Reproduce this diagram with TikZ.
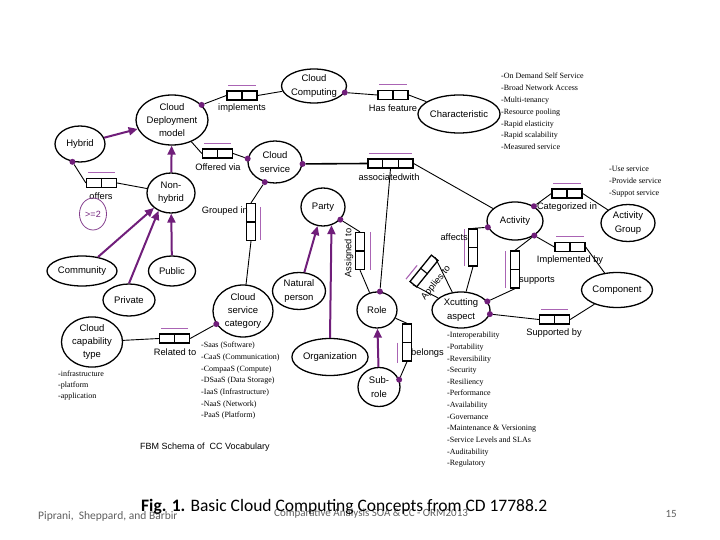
\documentclass[tikz,border=0pt]{standalone}
\usepackage{fontspec}
\setmainfont{Liberation Serif}
\setsansfont{Liberation Sans}
\newfontfamily\captionfont{Carlito}
\usepackage{tikz}
\usetikzlibrary{arrows.meta,shapes.geometric,calc}
\usepackage{xcolor}

\definecolor{subpurple}{RGB}{112,30,122}
\definecolor{ucpurple}{RGB}{170,100,180}
\definecolor{footgray}{RGB}{95,95,95}

\begin{document}
\begin{tikzpicture}[x=1pt,y=-1pt,
  concept/.style={ellipse, draw=black, line width=1.3pt, fill=white, inner sep=0pt, align=center, font=\sffamily\fontsize{9.5}{13.3}\selectfont},
  rolebox/.style={rectangle, draw=black, line width=1.3pt, fill=white, inner sep=0pt, minimum width=30pt, minimum height=9pt},
  vrolebox/.style={rolebox, minimum width=9pt, minimum height=37pt},
  divider/.style={draw=black, line width=1.1pt},
  lbl/.style={font=\sffamily\fontsize{9.3}{11}\selectfont, inner sep=0pt},
  facts/.style={font=\rmfamily\fontsize{8}{11.7}\selectfont, align=left, inner sep=0pt, anchor=north west},
  link/.style={draw=black, line width=0.9pt},
  subtype/.style={draw=subpurple, line width=2pt, -{Triangle[length=9pt,width=8pt]}},
  mand/.style={circle, fill=subpurple, inner sep=0pt, minimum size=6pt},
  uc/.style={draw=ucpurple, line width=1.1pt}
]
\useasboundingbox (0,0) rectangle (720,540);

% object types
\node[concept, minimum width=62pt, minimum height=34pt] (cc) at (314,86) {Cloud\\Computing};
\node[concept, minimum width=72pt, minimum height=50pt] (cdm) at (172,120) {Cloud\\Deployment\\model};
\node[concept, minimum width=50pt, minimum height=36pt] (hyb) at (80,144) {Hybrid};
\node[concept, minimum width=48pt, minimum height=40pt] (nonh) at (171,193) {Non-\\hybrid};
\node[concept, minimum width=54pt, minimum height=42pt] (cs) at (275,162) {Cloud\\service};
\node[concept, minimum width=76pt, minimum height=38pt] (char) at (459,114) {Characteristic};
\node[concept, minimum width=44pt, minimum height=38pt] (party) at (323,207) {Party};
\node[concept, minimum width=53pt, minimum height=37pt] (natp) at (299,291) {Natural\\person};
\node[concept, minimum width=40pt, minimum height=36pt] (role) at (377,310) {Role};
\node[concept, minimum width=75pt, minimum height=37pt] (org) at (330,357) {Organization};
\node[concept, minimum width=42pt, minimum height=39pt] (subr) at (379,387) {Sub-\\role};
\node[concept, minimum width=58pt, minimum height=36pt] (xc) at (461,310) {Xcutting\\aspect};
\node[concept, minimum width=56pt, minimum height=38pt] (act) at (515,221) {Activity};
\node[concept, minimum width=54pt, minimum height=37pt] (actg) at (628,223) {Activity\\Group};
\node[concept, minimum width=71pt, minimum height=35pt] (comp) at (617,290) {Component};
\node[concept, minimum width=70pt, minimum height=30pt] (comm) at (82,271) {Community};
\node[concept, minimum width=47pt, minimum height=30pt] (pub) at (172,271) {Public};
\node[concept, minimum width=52pt, minimum height=32pt] (priv) at (129,300) {Private};
\node[concept, minimum width=60pt, minimum height=52pt] (csc) at (243,311) {Cloud\\service\\category};
\node[concept, minimum width=61pt, minimum height=49pt] (cct) at (92,342) {Cloud\\capability\\type};

% fact type boxes
\node[rolebox] (impl) at (242,95.5) {};
\node[rolebox] (hasf) at (393,95) {};
\node[rolebox] (offv) at (217.5,153.5) {};
\node[rolebox] (offers) at (101.5,183) {};
\node[rolebox, minimum width=45pt] (assoc) at (390.5,163.5) {};
\node[rolebox] (cat) at (567,193.5) {};
\node[rolebox] (impb) at (570,247) {};
\node[rolebox] (supb) at (554.5,319.5) {};
\node[rolebox] (rel) at (174.5,338.5) {};
\node[vrolebox] (grp) at (251,222) {};
\node[vrolebox] (asg) at (360,251) {};
\node[vrolebox] (aff) at (473,247.5) {};
\node[vrolebox] (sup) at (515,269.5) {};
\node[vrolebox] (blg) at (407,342.5) {};
\node[rolebox, minimum width=34pt, minimum height=8.5pt, rotate=51] (apl) at (424,271) {};

\foreach \b in {impl,hasf,offv,offers,cat,impb,supb,rel,apl}
  \draw[divider] (\b.north) -- (\b.south);
\foreach \b in {grp,asg,aff,sup,blg}
  \draw[divider] (\b.west) -- (\b.east);
\draw[divider] ($(assoc.north west)!1/3!(assoc.north east)$) -- ($(assoc.south west)!1/3!(assoc.south east)$);
\draw[divider] ($(assoc.north west)!2/3!(assoc.north east)$) -- ($(assoc.south west)!2/3!(assoc.south east)$);

% uniqueness bars
\foreach \b in {impl,hasf,offv,offers,assoc,cat,impb,supb,rel}
  \draw[uc] ($(\b.north west)+(2,-5)$) -- ($(\b.north east)+(-2,-5)$);
\draw[uc] ($(grp.north east)+(4,4)$) -- ($(grp.south east)+(4,-1)$);
\draw[uc] ($(asg.north east)+(5,0)$) -- ($(asg.south east)+(5,0)$);
\draw[uc] ($(aff.north west)+(-3,1)$) -- ($(aff.south west)+(-3,-1)$);
\draw[uc] ($(sup.north west)+(-4.5,1)$) -- ($(sup.south west)+(-4.5,-1)$);
\draw[uc] ($(blg.west)+(-4.5,0)$) -- ($(blg.south west)+(-4.5,1)$);
\draw[uc] ($(apl.north west)!-4pt!(apl.south west)$) -- ($(apl.north)!-4pt!(apl.south)$);

% mandatory role dots
\node[mand] (dcc) at (cc.-12) {};
\node[mand] (dcdm) at (cdm.27) {};
\node[mand] (dhyb) at (hyb.247) {};
\node[mand] (dcsl) at (cs.173) {};
\node[mand] (dcsr) at (cs.-4) {};
\node[mand] (dcsb) at (cs.243) {};
\node[mand] (dcsc) at (csc.206) {};
\node[mand] (dparty) at (party.-36) {};
\node[mand] (drole) at (role.81) {};
\node[mand] (dsubr) at (subr.20) {};
\node[mand] (dacttr) at (act.38) {};
\node[mand] (dactl) at (act.193) {};
\node[mand] (dactbr) at (act.-37) {};
\node[mand] (dxca) at (xc.18) {};
\node[mand] (dxcb) at (xc.-8) {};

% connectors
\draw[link] (dcdm) -- (impl.west);
\draw[link] (impl.east) -- (cc);
\draw[link] (dcc) -- (hasf.west);
\draw[link] (hasf.east) -- (char);
\draw[link] (dhyb) -- (offers.west);
\draw[link] (offers.east) -- (nonh);
\draw[link] (offv.west) -- (cdm);
\draw[link] (dcsl) -- (offv.east);
\draw[link, line width=1.6pt] (dcsr) -- (assoc.west);
\draw[link] (assoc.east) -- (act);
\draw[link] (drole) -- (assoc.south);
\draw[link] (dcsb) -- (grp.north);
\draw[link] (grp.south) -- (csc);
\draw[link] (dcsc) -- (rel.east);
\draw[link] (rel.west) -- (cct);
\draw[link] (dparty) -- (asg.north);
\draw[link] (asg.south) -- (role);
\draw[link] (dsubr) -- (blg.south);
\draw[link] (blg.north) -- (role);
\draw[link] (dactl) -- (aff.north);
\draw[link] (aff.south) -- (xc);
\draw[link] (dactbr) -- (sup.north);
\draw[link] (dxca) -- (sup.south);
\draw[link] (dacttr) -- (cat.west);
\draw[link] (cat.east) -- (actg);
\draw[link] (dactbr) -- (impb.west);
\draw[link] (impb.east) -- (comp);
\draw[link] (dxcb) -- (supb.west);
\draw[link] (supb.east) -- (comp);
\draw[link] (apl.west) -- (xc);
\draw[link] (apl.east) -- (xc);

% subtypes
\draw[subtype] (hyb) -- (cdm);
\draw[subtype] (nonh) -- (cdm);
\draw[subtype] (comm) -- (nonh);
\draw[subtype] (priv.north) -- (nonh.235);
\draw[subtype] (pub) -- (nonh);
\draw[subtype] (natp) -- (party);
\draw[subtype] (org.north) -- (party.-65);
\draw[subtype] (subr) -- (role);

% fact type readings
\node[lbl] (limpl) at (242,108) {implements};
\node[lbl] (lhasf) at (393,108) {Has feature};
\node[lbl] (loffv) at (218,167) {Offered via};
\node[lbl] (loffers) at (101,196) {offers};
\node[lbl] (lassoc) at (389,177) {associatedwith};
\node[lbl, anchor=east] (lgrp) at (248,211) {Grouped in};
\node[lbl, rotate=90] (lasg) at (349,253) {Assigned to};
\node[lbl, rotate=51] (lapl) at (436,283) {Applies to};
\node[lbl, anchor=east] (laff) at (468,237) {affects};
\node[lbl, anchor=west] (lsup) at (519,280) {supports};
\node[lbl] (lcat) at (567,207) {Categorized in};
\node[lbl] (limpb) at (570,260) {Implemented by};
\node[lbl] (lsupb) at (554,333) {Supported by};
\node[lbl] (lrel) at (175,352) {Related to};
\node[lbl, anchor=west] (lblg) at (411,353) {belongs};

\node[ellipse, draw=subpurple!85, line width=0.8pt, minimum width=27pt, minimum height=32pt, inner sep=0pt, text=subpurple, font=\sffamily\fontsize{9}{10}\selectfont] (card) at (93,214) {>=2};

% value lists
\node[facts, font=\rmfamily\fontsize{8}{11.8}\selectfont] (charlist) at (501,73) {-On Demand Self Service\\-Broad Network Access\\-Multi-tenancy\\-Resource pooling\\-Rapid elasticity\\-Rapid scalability\\-Measured service};
\node[facts, font=\rmfamily\fontsize{8}{12}\selectfont] (actglist) at (609,166) {-Use service\\-Provide service\\-Suppot service};
\node[facts, font=\rmfamily\fontsize{8}{11}\selectfont] (cctlist) at (58,371) {-infrastructure\\-platform\\-application};
\node[facts, font=\rmfamily\fontsize{8}{11.67}\selectfont] (csclist) at (201,342) {-Saas (Software)\\-CaaS (Communication)\\-CompaaS (Compute)\\-DSaaS (Data Storage)\\-IaaS (Infrastructure)\\-NaaS (Network)\\-PaaS (Platform)};
\node[facts, font=\rmfamily\fontsize{8}{11.64}\selectfont] (xclist) at (447,332) {-Interoperability\\-Portability\\-Reversibility\\-Security\\-Resiliency\\-Performance\\-Availability\\-Governance\\-Maintenance \& Versioning\\-Service Levels and SLAs\\-Auditability\\-Regulatory};

\node[lbl, anchor=west, font=\sffamily\fontsize{9}{11}\selectfont] (schema) at (140,447) {FBM Schema of\ \ CC Vocabulary};

% slide footer
\node[anchor=west, inner sep=0pt, text=footgray, font=\captionfont\fontsize{11.5}{13}\selectfont] (authors) at (38,516) {Piprani,\ \ Sheppard, and Barbir};
\node[anchor=west, inner sep=0pt, text=footgray, font=\captionfont\fontsize{11}{13}\selectfont] (conf) at (274,514) {Comparative Analysis SOA \& CC - ORM2013};
\node[anchor=east, inner sep=0pt, text=footgray, font=\captionfont\fontsize{11}{13}\selectfont] (page) at (677,514) {15};
\node[anchor=west, inner sep=0pt, font=\captionfont\fontsize{17.5}{20}\selectfont] (caption) at (141,507) {\textbf{Fig. 1.} Basic Cloud Computing Concepts from CD 17788.2};
\end{tikzpicture}
\end{document}
